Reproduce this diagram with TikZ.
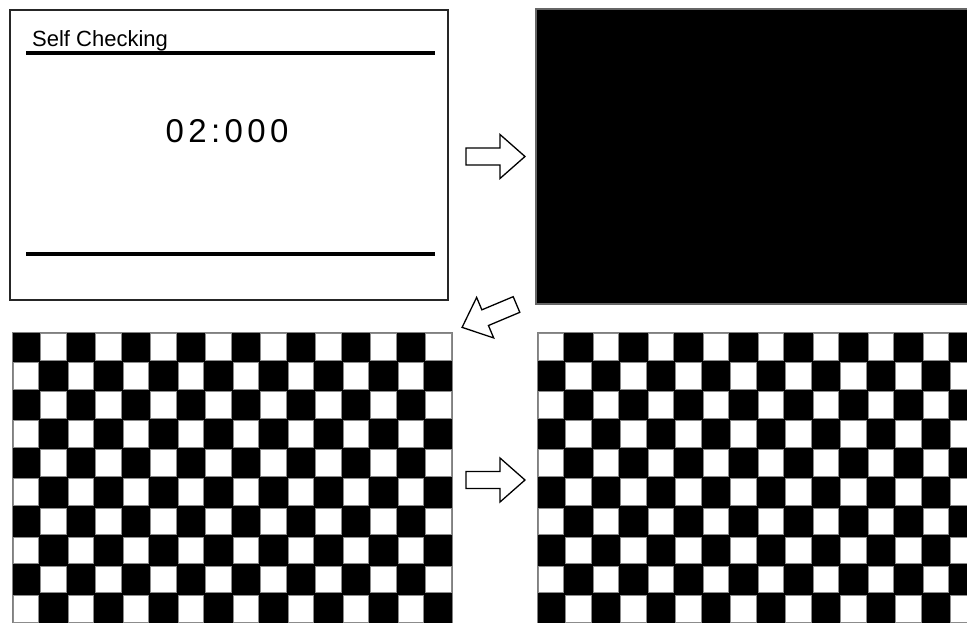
\documentclass[tikz,border=0pt]{standalone}
\usepackage{fontspec}
\setmainfont{Liberation Sans}
\begin{document}
\begin{tikzpicture}[x=1pt,y=-1pt,
  panel/.style={draw=black!85, line width=1.3pt, inner sep=0pt},
  rule/.style={line width=3.5pt},
  whitesq/.style={fill=white, draw=black!45, line width=0.6pt},
  arrowline/.style={draw=black, fill=white, line width=1.3pt, line join=miter},
  blockarrow/.pic={\path[arrowline] (0,-8.5) -- (34,-8.5) -- (34,-22) -- (59,0) -- (34,22) -- (34,8.5) -- (0,8.5) -- cycle;}
]
\useasboundingbox (0,0) rectangle (967,623);
\clip (0,0) rectangle (967,623);
\fill[white] (0,0) rectangle (967,623);

% top-left screen
\node[panel, fill=white, minimum width=438pt, minimum height=290pt] (scr1) at (229,155) {};
\draw[rule] (26,53) -- (435,53);
\draw[rule] (26,254) -- (435,254);
\node[anchor=base west, inner sep=0pt, font=\fontsize{22}{26}\selectfont] (title) at (32,47) {Self Checking};
\node[anchor=base, inner sep=0pt, font=\fontsize{33}{38}\selectfont] (timer) at (227,143)
  {0\kern4.4pt 2\kern4.4pt :\kern4.4pt 0\kern4.4pt 0\kern4.4pt 0};

% top-right black screen
\node[panel, fill=black, draw=black!60, minimum width=440pt, minimum height=295pt] (scr2) at (756,156.5) {};

% bottom-left checkerboard
\fill[black] (12,332) rectangle (452,630);
\foreach \i in {0,...,15}{\foreach \j in {0,...,9}{
  \pgfmathtruncatemacro\s{mod(\i+\j,2)}
  \ifnum\s=1 \draw[whitesq] ({12+27.5*\i+1.2},{332+29.1*\j+1.2}) rectangle ++(25.1,26.7);\fi
}}
\draw[black!50, line width=0.8pt] (12,632) -- (12,332) -- (452,332) -- (452,632);

% bottom-right checkerboard
\fill[black] (537,332) rectangle (975,630);
\foreach \i in {0,...,15}{\foreach \j in {0,...,9}{
  \pgfmathtruncatemacro\s{mod(\i+\j,2)}
  \ifnum\s=0 \draw[whitesq] ({537+27.5*\i+1.2},{332+29.1*\j+1.2}) rectangle ++(25.1,26.7);\fi
}}
\draw[black!50, line width=0.8pt] (537,632) -- (537,332) -- (975,332);

% arrows
\pic at (466,156.5) {blockarrow};
\pic[rotate=202.8] at (516.5,304.5) {blockarrow};
\pic at (466,480) {blockarrow};
\end{tikzpicture}
\end{document}
